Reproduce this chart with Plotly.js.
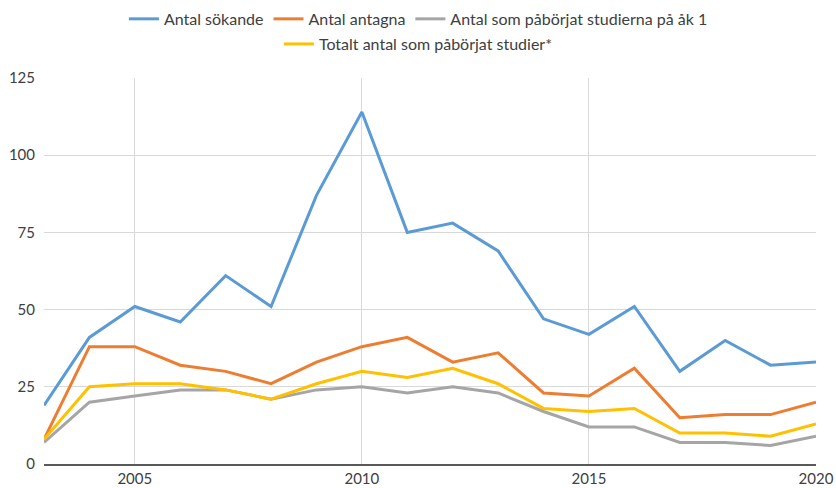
<!DOCTYPE html>
<html>
<head>
<meta charset="utf-8">
<script src="https://cdn.plot.ly/plotly-3.0.1.min.js"></script>
<style>html,body{margin:0;padding:0;background:#fff;}#chart{width:836px;height:488px;}</style>
</head>
<body>
<div id="chart"></div>
<script>
const years = [2003,2004,2005,2006,2007,2008,2009,2010,2011,2012,2013,2014,2015,2016,2017,2018,2019,2020];
const sokande = [19,41,51,46,61,51,87,114,75,78,69,47,42,51,30,40,32,33];
const antagna = [8,38,38,32,30,26,33,38,41,33,36,23,22,31,15,16,16,20];
const pabAk1 = [7,20,22,24,24,21,24,25,23,25,23,17,12,12,7,7,6,9];
const totalt = [8,25,26,26,24,21,26,30,28,31,26,18,17,18,10,10,9,13];
const names = ["Antal sökande","Antal antagna","Antal som påbörjat studierna på åk 1","Totalt antal som påbörjat studier*"];
const xTicks = [2005,2010,2015,2020];
const yTicks = [0,25,50,75,100,125];

const font = "Lato, 'Open Sans', sans-serif";
const mk = (y, name, color, legend) => ({
  x: years, y: y, name: name, type: 'scatter', mode: 'lines',
  line: {color: color, width: 3}, legend: legend
});
const data = [
  mk(sokande, names[0], '#5B9BD5', 'legend'),
  mk(antagna, names[1], '#ED7D31', 'legend'),
  mk(pabAk1, names[2], '#A5A5A5', 'legend'),
  mk(totalt, names[3], '#FFC000', 'legend2')
];
const legendBase = {
  orientation: 'h', xanchor: 'center', yanchor: 'middle',
  font: {family: font, size: 16, color: '#404040'},
  bgcolor: 'rgba(0,0,0,0)', itemwidth: 30, traceorder: 'normal'
};
const layout = {
  width: 836, height: 488,
  margin: {l: 44, r: 20, t: 78, b: 24, autoexpand: false},
  paper_bgcolor: '#fff', plot_bgcolor: '#fff',
  font: {family: font, size: 15, color: '#404040'},
  showlegend: true,
  legend: Object.assign({}, legendBase, {x: 0.485, y: 1.153}),
  legend2: Object.assign({}, legendBase, {x: 0.485, y: 1.088}),
  xaxis: {
    range: [2003, 2020], tickvals: xTicks, ticktext: xTicks.map(String),
    showgrid: true, gridcolor: '#D9D9D9', gridwidth: 1,
    showline: true, linecolor: '#595959', linewidth: 1.5,
    ticks: '', zeroline: false, tickfont: {family: font, size: 15, color: '#404040'}
  },
  yaxis: {
    range: [0, 125], tickvals: yTicks, ticktext: yTicks.map(String),
    showgrid: true, gridcolor: '#D9D9D9', gridwidth: 1,
    showline: false, zeroline: false, ticks: '', ticklabelstandoff: 8,
    tickfont: {family: font, size: 15, color: '#404040'}
  }
};
Plotly.newPlot('chart', data, layout, {displayModeBar: false, staticPlot: true});
</script>
</body>
</html>
